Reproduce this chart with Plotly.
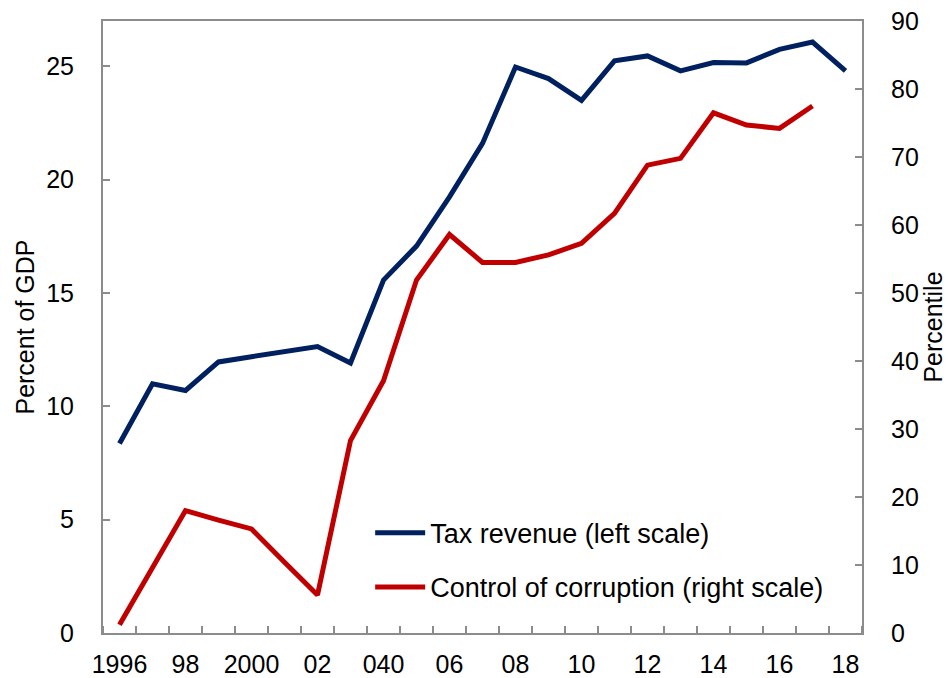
import plotly.graph_objects as go

years = list(range(1996, 2019))
tax_revenue = [8.36, 10.99, 10.70, 11.96, 12.19, 12.41, 12.64, 11.91, 15.57, 17.07,
               19.24, 21.6, 24.97, 24.46, 23.5, 25.24, 25.46, 24.8, 25.17, 25.15,
               25.75, 26.07, 24.8]
corruption = [1.2, 9.6, 18.0, 16.6, 15.3, 10.4, 5.6, 28.3, 37.1, 51.9,
              58.6, 54.5, 54.5, 55.6, 57.3, 61.7, 68.8, 69.8, 76.5, 74.7,
              74.2, 77.5, None]
tick_years = list(range(1996, 2019, 2))
tick_text = ["1996", "98", "2000", "02", "040", "06", "08", "10", "12", "14", "16", "18"]

axis_grey = '#8c8c8c'
font_main = 'Liberation Sans, Arial, sans-serif'

fig = go.Figure()
fig.add_trace(go.Scatter(
    x=years, y=tax_revenue,
    mode='lines',
    name='Tax revenue (left scale)',
    legendgroup='a',
    line=dict(color='#002060', width=5),
    yaxis='y'
))
fig.add_trace(go.Scatter(
    x=years, y=corruption,
    mode='lines',
    name='Control of corruption (right scale)',
    legendgroup='b',
    line=dict(color='#C00000', width=5),
    yaxis='y2'
))

# the page body adds an 8px margin, so the figure is drawn 8px smaller
fig.update_layout(
    width=944, height=670,
    margin=dict(l=95, r=90, t=13, b=45, autoexpand=False),
    plot_bgcolor='white',
    paper_bgcolor='white',
    font=dict(family=font_main, size=25, color='black'),
    showlegend=True,
    legend=dict(
        x=0.352, y=0.203, xanchor='left', yanchor='top',
        font=dict(size=27),
        traceorder='grouped',
        tracegroupgap=16,
        bgcolor='rgba(0,0,0,0)',
        itemwidth=50,
    ),
    xaxis=dict(
        range=[1995.5, 2018.5],
        tickmode='array',
        tickvals=tick_years,
        ticktext=tick_text,
        ticks='',
        tickfont=dict(size=25),
        ticklabelstandoff=8,
        automargin=False,
        showgrid=False,
        zeroline=False,
        showline=True,
        linecolor=axis_grey,
        linewidth=2,
        mirror=True,
        minor=dict(ticks='inside', tick0=1995.5, dtick=1, ticklen=7,
                   tickcolor=axis_grey, tickwidth=2, showgrid=False),
    ),
    yaxis=dict(
        range=[0, 27],
        tickvals=[0, 5, 10, 15, 20, 25],
        ticks='inside',
        ticklen=7,
        tickcolor=axis_grey,
        tickwidth=2,
        ticklabelstandoff=22,
        automargin=False,
        showgrid=False,
        zeroline=False,
        showline=True,
        linecolor=axis_grey,
        linewidth=2,
        title=dict(text='Percent of GDP', standoff=4, font=dict(size=25)),
    ),
    yaxis2=dict(
        range=[0, 90],
        tickvals=list(range(0, 91, 10)),
        overlaying='y',
        side='right',
        ticks='inside',
        ticklen=7,
        tickcolor=axis_grey,
        tickwidth=2,
        ticklabelstandoff=22,
        ticklabeloverflow='allow',
        automargin=False,
        showgrid=False,
        zeroline=False,
        showline=True,
        linecolor=axis_grey,
        linewidth=2,
        title=dict(text='Percentile', standoff=6, font=dict(size=25)),
    ),
)

fig.write_html("out.html")
